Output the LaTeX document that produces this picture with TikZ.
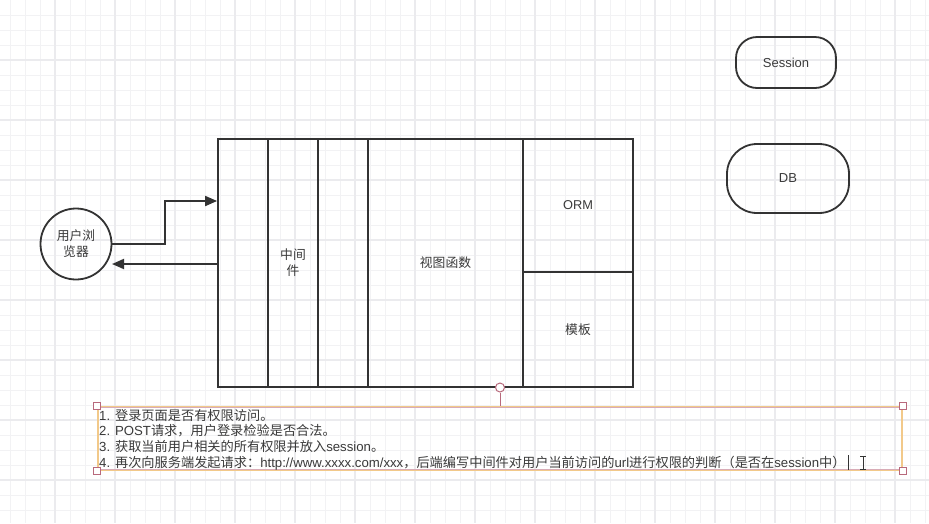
\documentclass[tikz,border=0pt]{standalone}
\usepackage{fontspec}
\setmainfont{Liberation Sans}
\newfontfamily\cjk{Noto Sans CJK SC}
\usetikzlibrary{arrows.meta}
\definecolor{ink}{HTML}{333333}
\definecolor{txt}{HTML}{3A3A3A}
\definecolor{gridminor}{HTML}{F2F2F4}
\definecolor{gridmajor}{HTML}{EBEBEE}
\definecolor{selorange}{HTML}{F2C98A}
\definecolor{selpink}{HTML}{B8697C}
\tikzset{
  box/.style={draw=ink, line width=1.8pt, rectangle, inner sep=0pt, font=\fontsize{12.8}{16}\selectfont, text=txt, align=center},
  pill/.style={draw=ink, line width=1.8pt, rectangle, inner sep=0pt, font=\fontsize{13}{16}\selectfont, text=txt},
  flow/.style={draw=ink, line width=1.8pt, -{Triangle[length=12pt,width=10pt]}},
  handle/.style={draw=selpink, fill=white, line width=1pt, minimum size=7pt, inner sep=0pt, rectangle},
}
\begin{document}
\begin{tikzpicture}[x=1pt,y=-1pt]
\useasboundingbox (0,0) rectangle (929,523);
\fill[white] (0,0) rectangle (929,523);
% grid
\foreach \x in {10,25,...,925} \draw[gridminor, line width=0.9pt] (\x,0) -- (\x,523);
\foreach \y in {15,30,...,520} \draw[gridminor, line width=0.9pt] (0,\y) -- (929,\y);
\foreach \x in {55,115,...,925} \draw[gridmajor, line width=1.2pt] (\x,0) -- (\x,523);
\foreach \y in {60,120,...,520} \draw[gridmajor, line width=1.2pt] (0,\y) -- (929,\y);

% main block
\node[box, minimum width=50pt, minimum height=248pt] (c1) at (243,263) {};
\node[box, minimum width=50pt, minimum height=248pt] (c2) at (293,263) {\cjk 中间\\\cjk 件};
\node[box, minimum width=50pt, minimum height=248pt] (c3) at (343,263) {};
\node[box, minimum width=155pt, minimum height=248pt] (c4) at (445.5,263) {\cjk 视图函数};
\node[box, minimum width=110pt, minimum height=132.7pt] (orm) at (578,205.35) {ORM};
\node[box, minimum width=110pt, minimum height=115.3pt] (tpl) at (578,329.35) {\cjk 模板};

% browser
\node[draw=ink, line width=1.8pt, circle, minimum size=71pt, inner sep=0pt, align=center,
      font=\fontsize{12.8}{16}\selectfont, text=txt] (user) at (76,244) {\cjk 用户浏\\\cjk 览器};

\coordinate (in1) at (218,201);
\coordinate (out1) at (218,264);
\coordinate (ret) at (112,264);
\draw[flow] (user.east) -- (165,244) |- (c1.west |- in1);
\draw[flow] (c1.west |- out1) -- (ret);

% session / db
\node[pill, rounded corners=21pt, minimum width=100pt, minimum height=51pt] (sess) at (786,62.5) {Session};
\node[pill, rounded corners=30pt, minimum width=122pt, minimum height=69pt] (db) at (788,178.5) {DB};

% selection frame around note
\node[draw=selorange, line width=1.8pt, rectangle, inner sep=0pt, minimum width=804pt, minimum height=63pt] (sel) at (500,438.5) {};
\draw[selpink!55, line width=0.6pt] ([yshift=-1.2pt]sel.north west) -- ([yshift=-1.2pt]sel.north east);
\draw[selpink!55, line width=0.6pt] ([yshift=1.2pt]sel.south west) -- ([yshift=1.2pt]sel.south east);
\node[handle] (h1) at (sel.north west) {};
\node[handle] (h2) at (sel.north east) {};
\node[handle] (h3) at (sel.south west) {};
\node[handle] (h4) at (sel.south east) {};
\node[draw=selpink, fill=white, circle, line width=1pt, minimum size=9pt, inner sep=0pt] (rot) at (500,387.5) {};
\draw[selpink, line width=1pt] (rot.south) -- (rot.south |- sel.north);

% note text
\node[anchor=west, inner sep=0pt, align=left, text=txt, font=\fontsize{13.2}{15.6}\selectfont] (note) at (99,439.5)
{1. {\cjk 登录页面是否有权限访问。}\\
2. POST{\cjk 请求，用户登录检验是否合法。}\\
3. {\cjk 获取当前用户相关的所有权限并放入}session{\cjk 。}\\
4. {\cjk 再次向服务端发起请求：}http://www.xxxx.com/xxx{\cjk ，后端编写中间件对用户当前访问的}url{\cjk 进行权限的判断（是否在}session{\cjk 中）}};

% cursors
\draw[ink, line width=0.9pt] (848,455) -- (848,470);
\draw[ink, line width=1pt] (860,456) -- (866,456) (863,456) -- (863,469) (860,469) -- (866,469);
\end{tikzpicture}
\end{document}
